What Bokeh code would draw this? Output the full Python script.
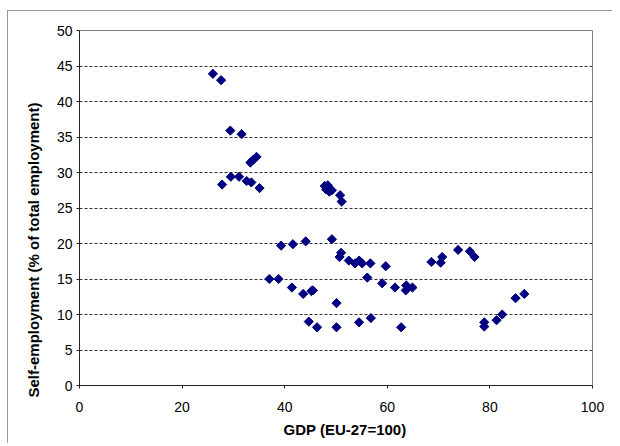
import numpy as np
from bokeh.plotting import figure
from bokeh.models import ColumnDataSource, FixedTicker, Title
from bokeh.embed import file_html
from bokeh.resources import INLINE

gdp = [26.0, 27.6, 29.4, 31.6, 33.3, 33.9, 34.5, 27.8, 29.5, 31.1, 32.6, 33.5, 35.1,
       47.8, 48.4, 48.1, 48.7, 49.2, 50.8, 51.1, 49.2,
       39.3, 41.6, 44.1, 37.0, 38.8, 41.4, 43.6, 45.2, 45.5, 44.7, 46.3, 50.1, 50.1,
       50.7, 51.0, 52.5, 53.7, 54.5, 55.1, 56.7, 56.1, 59.0, 59.7, 54.5, 56.8,
       61.5, 62.7, 63.7, 63.6, 64.9, 68.6, 70.4, 70.7, 73.8, 76.1, 77.0,
       78.9, 78.9, 81.3, 82.4, 85.0, 86.7]
self_emp = [43.9, 43.0, 35.9, 35.4, 31.4, 31.8, 32.2, 28.3, 29.4, 29.4, 28.8, 28.6, 27.8,
            28.1, 28.2, 27.6, 27.3, 27.5, 26.8, 25.9, 20.6,
            19.7, 19.9, 20.3, 15.0, 15.0, 13.8, 12.9, 13.3, 13.4, 9.0, 8.2, 11.6, 8.2,
            18.1, 18.7, 17.6, 17.2, 17.6, 17.2, 17.2, 15.2, 14.4, 16.8, 8.9, 9.5,
            13.8, 8.2, 14.1, 13.4, 13.8, 17.4, 17.3, 18.1, 19.1, 18.9, 18.1,
            8.9, 8.3, 9.2, 10.0, 12.3, 12.9]

x_ticks = [0, 20, 40, 60, 80, 100]
y_ticks = [0, 5, 10, 15, 20, 25, 30, 35, 40, 45, 50]
x_title = "GDP (EU-27=100)"
y_title = "Self-employment (% of total employment)"

src = ColumnDataSource(dict(x=gdp, y=self_emp))

p = figure(frame_width=513, frame_height=355, output_backend="svg", toolbar_location=None,
           x_range=(0, 100), y_range=(0, 50),
           min_border_left=71, min_border_right=20, min_border_top=19, min_border_bottom=58)

p.scatter("x", "y", source=src, marker="square", angle=np.pi / 4, size=6.5,
          fill_color="#000080", line_color="#000080")

p.xaxis.ticker = FixedTicker(ticks=x_ticks)
p.yaxis.ticker = FixedTicker(ticks=y_ticks)
for ax in (p.xaxis[0], p.yaxis[0]):
    ax.minor_tick_line_color = None
    ax.major_tick_in = 0
    ax.major_tick_out = 3
    ax.axis_line_color = "#222222"
    ax.major_tick_line_color = "#222222"
    ax.major_label_text_font = "Liberation Sans"
    ax.major_label_text_font_size = "14px"
    ax.major_label_text_color = "black"
p.xaxis.major_label_standoff = 13
p.yaxis.major_label_standoff = 4

xt = Title(text=x_title, align="left", offset=204, standoff=8,
           text_font="Liberation Sans", text_font_size="15px", text_font_style="bold",
           text_color="black")
yt = Title(text=y_title, align="left", offset=-12, standoff=24,
           text_font="Liberation Sans", text_font_size="15px", text_font_style="bold",
           text_color="black")
p.add_layout(xt, "below")
p.add_layout(yt, "left")

p.xgrid.grid_line_color = None
p.ygrid.grid_line_color = "#333333"
p.ygrid.grid_line_dash = "3 2"
p.ygrid.grid_line_width = 1

p.outline_line_color = "#808080"
p.outline_line_width = 1
p.background_fill_color = "white"
p.border_fill_color = "white"
p.styles = {"margin-left": "7px", "margin-top": "10px",
            "border-left": "1px solid #999999", "border-top": "1px solid #999999"}

open("out.html", "w").write(file_html(p, INLINE))
